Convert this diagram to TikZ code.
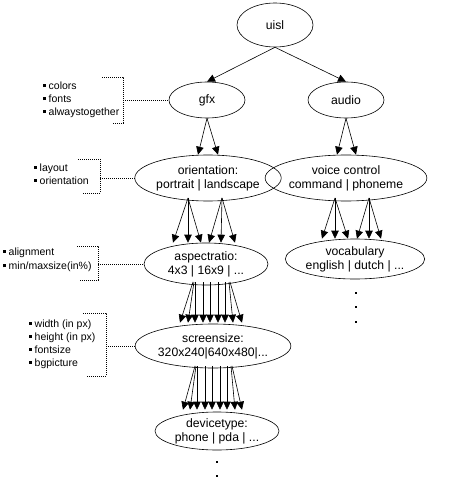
\documentclass[tikz,border=0pt]{standalone}
\usepackage{fontspec}
\setmainfont{Liberation Sans}
\usetikzlibrary{shapes.geometric,arrows.meta,calc}
\tikzset{
  ell/.style={draw, ellipse, line width=0.6pt, inner sep=0pt, align=center, font=\fontsize{12.2}{14}\selectfont},
  arr/.style={-{Triangle[length=8pt,width=7.5pt]}, line width=0.6pt},
  dot/.style={line width=0.7pt, dash pattern=on 1pt off 1pt},
  lst/.style={anchor=west, align=left, inner sep=0pt, font=\fontsize{10.5}{13}\selectfont},
  pt/.style={fill=black, minimum size=2.2pt, inner sep=0pt, rectangle}
}
\newcommand{\bul}{\rule[2.5pt]{3pt}{3pt}\hspace{2.5pt}}
\begin{document}
\begin{tikzpicture}[x=1pt,y=-1pt]
\useasboundingbox (0,0) rectangle (453,486);
% nodes
\node[ell, minimum width=76pt, minimum height=44pt] (uisl) at (275,25) {uisl};
\node[ell, minimum width=76pt, minimum height=36pt] (gfx) at (207,100) {gfx};
\node[ell, minimum width=76pt, minimum height=36pt] (audio) at (346,100) {audio};
\node[ell, minimum width=126pt, minimum height=46pt] (orient) at (208,178) {orientation:\\portrait | landscape};
\node[ell, minimum width=136pt, minimum height=46pt] (voice) at (346,178) {voice control\\command | phoneme};
\node[ell, minimum width=124pt, minimum height=42pt] (aspect) at (206,264) {aspectratio:\\4x3 | 16x9 | ...};
\node[ell, minimum width=124pt, minimum height=40pt] (vocab) at (355,259) {vocabulary\\english | dutch | ...};
\node[ell, minimum width=126pt, minimum height=44pt] (screen) at (213,346) {screensize:\\320x240|640x480|...};
\node[ell, minimum width=124pt, minimum height=38pt] (device) at (217,431) {devicetype:\\phone | pda | ...};
% dots
\node[pt] (v1) at (356,293) {};
\node[pt] (v2) at (356,307) {};
\node[pt] (v3) at (356,322) {};
\node[pt] (d1) at (217,462) {};
\node[pt] (d2) at (217,476) {};
% tree arrows
\draw[arr] (uisl.south) -- (gfx.north);
\draw[arr] (uisl.south) -- (audio.north);
\draw[arr] (gfx.south) -- ($(orient.north)+(-10,0)$);
\draw[arr] (gfx.south) -- ($(orient.north)+(10,0)$);
\draw[arr] (audio.south) -- ($(voice.north)+(-9,0)$);
\draw[arr] (audio.south) -- ($(voice.north)+(10,0)$);
\foreach \s/\t in {-20/-33,-20/-18,-20/-5,14/3,14/15,14/29}
  \draw[arr] ($(orient.center)+(\s,20)$) -- ($(aspect.north)+(\t,0)$);
\foreach \s/\t in {-11/-33,-11/-20,-11/-7,23/2,23/14,23/26}
  \draw[arr] ($(voice.center)+(\s,20)$) -- ($(vocab.north)+(\t,0)$);
\foreach \s/\t in {-13/-33,-12/-25,-11/-18,-3/-10,4/-3,12/5,19/12,23/20,24/29}
  \draw[arr] ($(aspect.center)+(\s,18)$) -- ($(screen.north)+(\t,-1)$);
\foreach \s/\t in {-18/-34,-17/-27,-16/-20,-8/-12,-1/-5,7/3,14/10,18/18,19/25}
  \draw[arr] ($(screen.center)+(\s,20)$) -- ($(device.north)+(\t,-2)$);
% lists
\node[lst] (l1) at (43,100) {\bul colors\\\bul fonts\\\bul alwaystogether};
\node[lst] (l2) at (34,174) {\bul layout\\\bul orientation};
\node[lst, font=\fontsize{10.5}{14.5}\selectfont] (l3) at (3,260) {\bul alignment\\\bul min/maxsize(in\%)};
\node[lst] (l4) at (29,344) {\bul width (in px)\\\bul height (in px)\\\bul fontsize\\\bul bgpicture};
% brackets
\coordinate (b1) at (123,100);
\coordinate (b2) at (100,178);
\coordinate (b3) at (98,264);
\coordinate (b4) at (106,346);
\draw[dot] (102,77) -- (123,77) -- (123,123) -- (113,123);
\draw[dot] (78,159) -- (100,159) -- (100,193) -- (82,193);
\draw[dot] (77,246) -- (98,246) -- (98,280) -- (79,280);
\draw[dot] (83,313) -- (106,313) -- (106,376) -- (86,376);
\draw[dot] (b1) -- (gfx.west);
\draw[dot] (b2) -- (orient.west);
\draw[dot] (b3) -- (aspect.west);
\draw[dot] (b4) -- (screen.west);
\end{tikzpicture}
\end{document}
